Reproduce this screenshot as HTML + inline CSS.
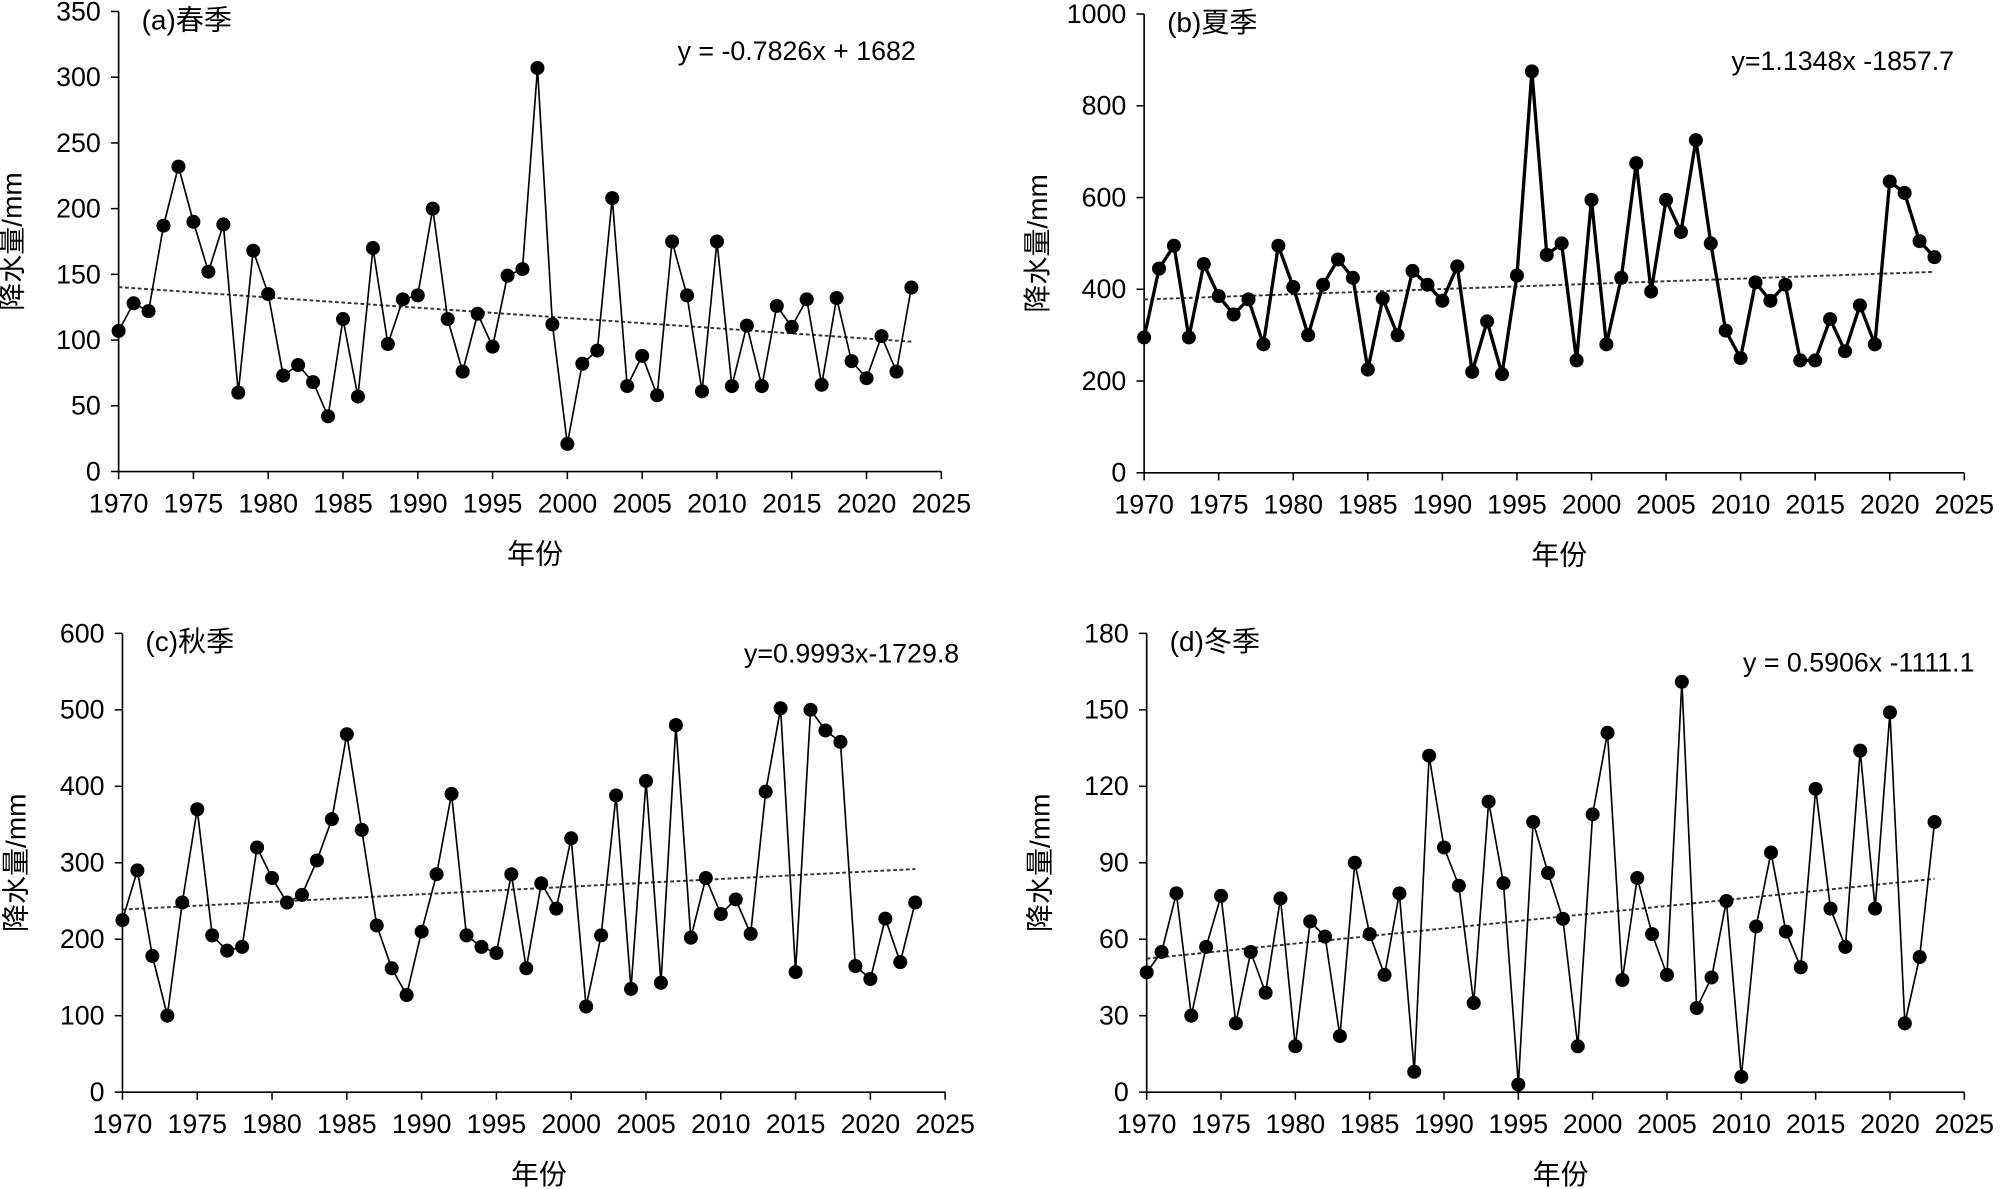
<!DOCTYPE html>
<html><head><meta charset="utf-8"><style>
html,body{margin:0;padding:0;background:#fff;}
svg{display:block;font-family:"Liberation Sans","Noto Sans CJK SC",sans-serif;}
</style></head><body>
<svg id="chart" width="2000" height="1189" viewBox="0 0 1568 933" preserveAspectRatio="none" xmlns="http://www.w3.org/2000/svg"></svg>
<script>
const years = [];
for (let y = 1970; y <= 2023; y++) years.push(y);
const springValues = [107,128,122,187,232,190,152,188,60,168,135,73,81,68,42,116,57,170,97,131,134,200,116,76,120,95,149,154,307,112,21,82,92,208,65,88,58,175,134,61,175,65,111,65,126,110,131,66,132,84,71,103,76,140];
const summerValues = [295,445,495,295,455,385,345,378,280,495,405,300,410,465,425,225,380,300,440,410,375,450,220,330,215,430,875,475,500,245,595,280,425,675,395,595,525,725,500,310,250,415,375,410,245,245,335,265,365,280,635,610,505,470];
const autumnValues = [225,290,178,100,248,370,205,185,190,320,280,248,258,303,357,468,343,218,162,127,210,285,390,205,190,182,285,162,273,240,332,112,205,388,135,407,143,480,202,280,233,252,207,393,502,157,500,473,458,165,148,227,170,248];
const winterValues = [47,55,78,30,57,77,27,55,39,76,18,67,61,22,90,62,46,78,8,132,96,81,35,114,82,3,106,86,68,18,109,141,44,84,62,46,161,33,45,75,6,65,94,63,49,119,72,57,134,72,149,27,53,106];
const xTicks = [1970,1975,1980,1985,1990,1995,2000,2005,2010,2015,2020,2025];
const springTicks = [0,50,100,150,200,250,300,350];
const summerTicks = [0,200,400,600,800,1000];
const autumnTicks = [0,100,200,300,400,500,600];
const winterTicks = [0,30,60,90,120,150,180];
const trendSlopes = [-0.7826,1.1348,0.9993,0.5906];
const trendIntercepts = [1682,-1857.7,-1729.8,-1111.1];

const NS = "http://www.w3.org/2000/svg";
const svg = document.getElementById('chart');
function mk(tag, attrs, parent, text) {
  const e = document.createElementNS(NS, tag);
  for (const k in attrs) e.setAttribute(k, attrs[k]);
  if (text !== undefined) e.textContent = text;
  (parent || svg).appendChild(e);
  return e;
}
const panels = [
  {key:'spring', vals:springValues, ticks:springTicks, x0:93, x1:738, y0:370, y1:9, title:'(a)春季', eq:'y = -0.7826x + 1682', eqX:718, eqY:47, lw:1.3},
  {key:'summer', vals:summerValues, ticks:summerTicks, x0:897, x1:1540, y0:371, y1:11, title:'(b)夏季', eq:'y=1.1348x -1857.7', eqX:1532, eqY:55, lw:2.6},
  {key:'autumn', vals:autumnValues, ticks:autumnTicks, x0:96, x1:741, y0:857, y1:497, title:'(c)秋季', eq:'y=0.9993x-1729.8', eqX:752, eqY:520, lw:1.3},
  {key:'winter', vals:winterValues, ticks:winterTicks, x0:899, x1:1540, y0:857, y1:497, title:'(d)冬季', eq:'y = 0.5906x -1111.1', eqX:1548, eqY:527, lw:1.3}
];
panels.forEach((p, pi) => {
  const g = mk('g', {});
  
  
  const ymax = p.ticks[p.ticks.length-1];
  const xs = v => p.x0 + (v - 1970) / 55 * (p.x1 - p.x0);
  const ys = v => p.y0 - v / ymax * (p.y0 - p.y1);
  const ax = mk('path', {d:`M${p.x0},${p.y1}V${p.y0}H${p.x1}`, stroke:'#000', 'stroke-width':1.3, fill:'none'}, g);
  
  
  p.ticks.forEach(t => {
    mk('line', {x1:p.x0-6, x2:p.x0, y1:ys(t), y2:ys(t), stroke:'#000', 'stroke-width':1.2}, g);
    const tl = mk('text', {x:p.x0-14, y:ys(t)+7, 'text-anchor':'end', 'font-size':21}, g, String(t));
    
    
  });
  xTicks.forEach(t => {
    mk('line', {x1:xs(t), x2:xs(t), y1:p.y0, y2:p.y0+6, stroke:'#000', 'stroke-width':1.2}, g);
    const tl = mk('text', {x:xs(t), y:p.y0+32, 'text-anchor':'middle', 'font-size':21}, g, String(t));
    
    
  });
  const xt = mk('text', {x:(p.x0+p.x1)/2+4, y:p.y0+72, 'text-anchor':'middle', 'font-size':22}, g, '年份');
  
  
  const yc = (p.y0+p.y1)/2;
  const yl = mk('text', {x:0, y:0, 'text-anchor':'middle', 'font-size':22, transform:`translate(${p.x0-76},${yc}) rotate(-90)`}, g, '降水量/mm');
  
  
  const tt = mk('text', {x:p.x0+18, y:p.y1+14, 'font-size':22}, g, p.title);
  
  
  const eq = mk('text', {x:p.eqX, y:p.eqY, 'text-anchor':'end', 'font-size':21}, g, p.eq);
  
  
  const ya = trendSlopes[pi]*1970 + trendIntercepts[pi];
  const yb = trendSlopes[pi]*2023 + trendIntercepts[pi];
  const tr = mk('line', {x1:xs(1970), y1:ys(ya), x2:xs(2023), y2:ys(yb), stroke:'#333', 'stroke-width':1.5, 'stroke-dasharray':'3,2'}, g);
  
  
  const d = p.vals.map((v,i) => (i?'L':'M') + xs(years[i]).toFixed(1) + ',' + ys(v).toFixed(1)).join('');
  const ln = mk('path', {d, stroke:'#000', 'stroke-width':p.lw, fill:'none'}, g);
  
  
  p.vals.forEach((v,i) => {
    const c = mk('circle', {cx:xs(years[i]), cy:ys(v), r:5.5, fill:'#000'}, g);
    
    
  });
});
</script>
</body></html>
